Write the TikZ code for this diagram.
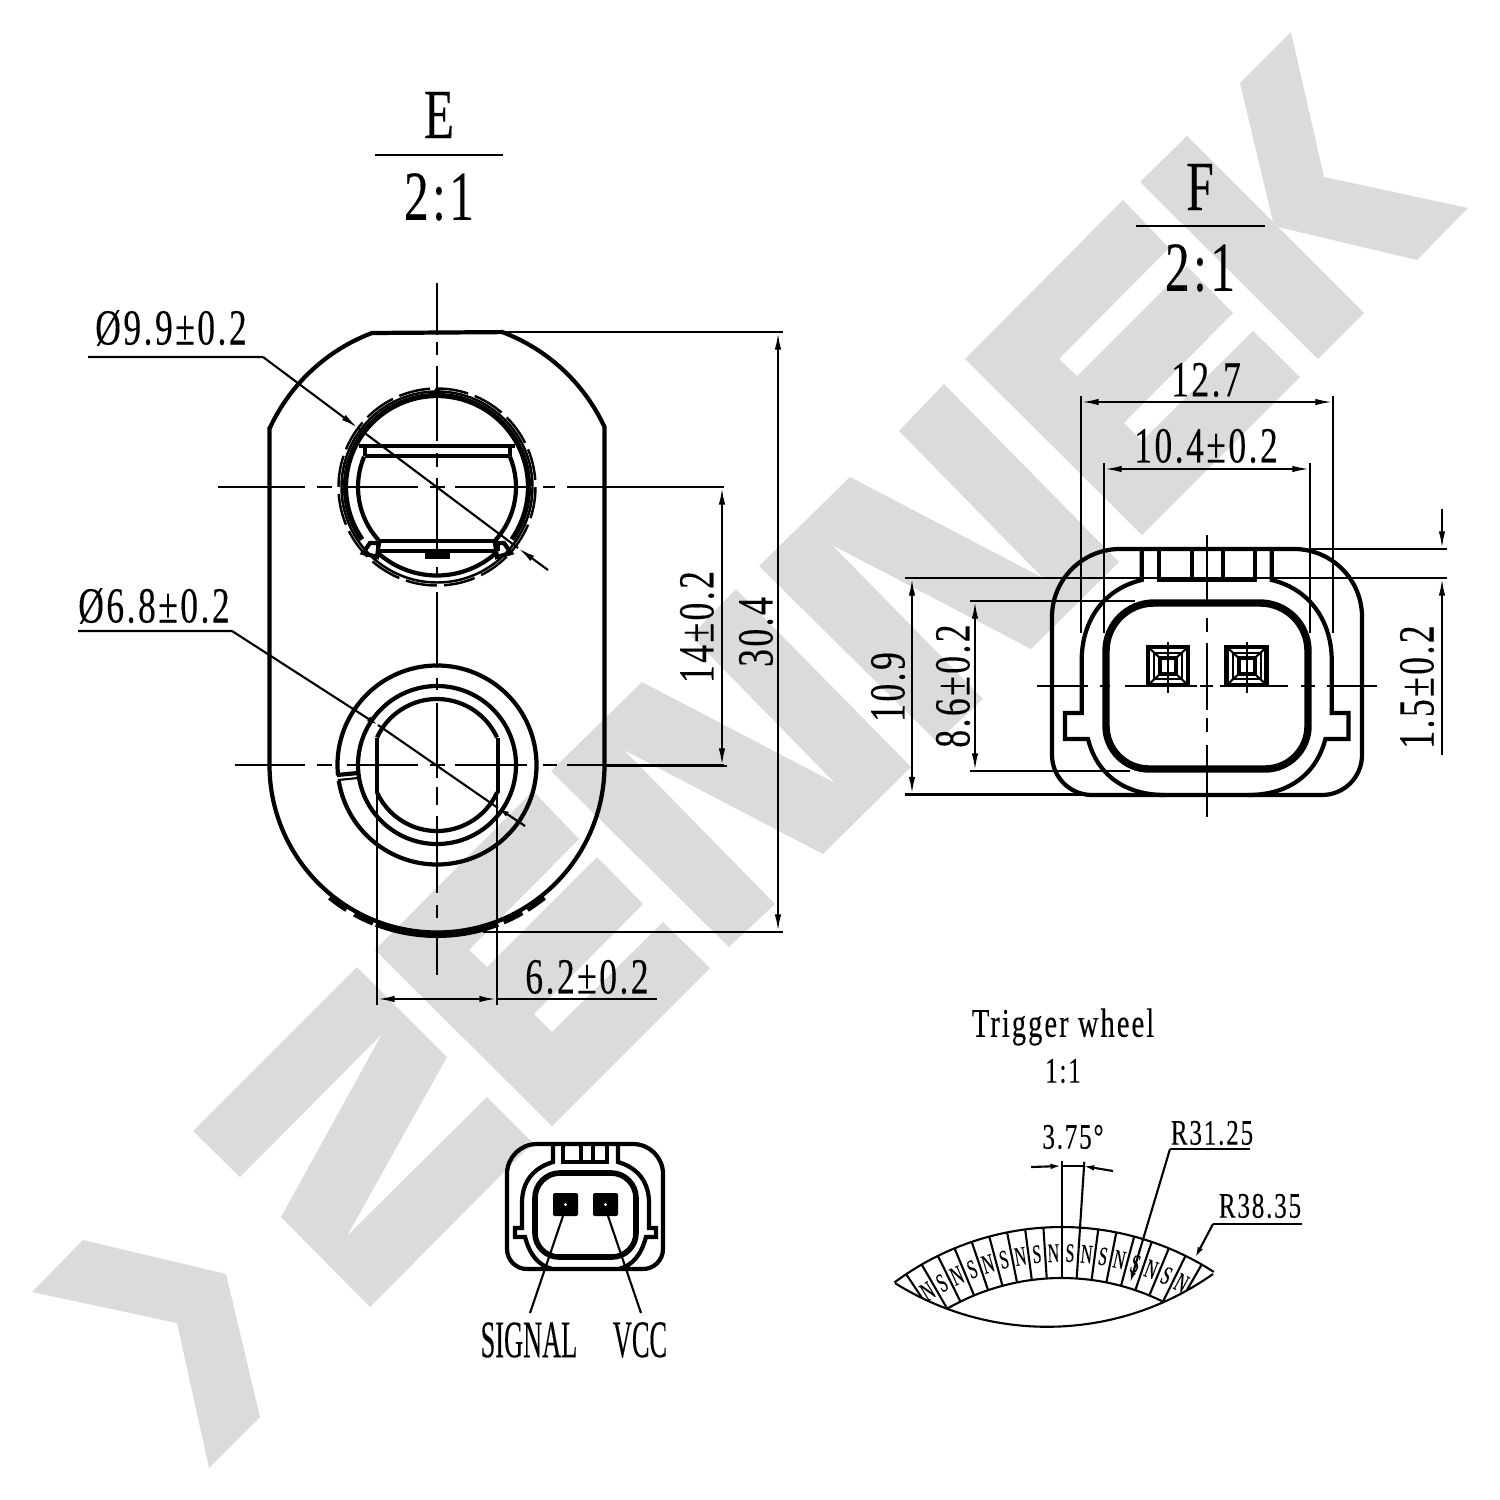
\documentclass[tikz,border=0pt]{standalone}
\usepackage{fontspec}
\setmainfont{Liberation Serif}
\newfontfamily\dimface[FakeStretch=0.7,LetterSpace=5,FakeBold=0.2]{Liberation Serif}
\newfontfamily\magface[FakeStretch=0.6,FakeBold=0.2]{Liberation Serif}
\newfontfamily\capface[FakeStretch=0.5,FakeBold=0.2]{Liberation Serif}
\newcommand{\bigfont}{\fontsize{20}{24}\dimface\selectfont}
\newcommand{\dimfont}{\fontsize{14.4}{16}\dimface\selectfont}
\newcommand{\midfont}{\fontsize{10.2}{12}\dimface\selectfont}
\newcommand{\wheelfont}{\fontsize{11.6}{14}\dimface\selectfont}
\newcommand{\magfont}{\fontsize{7.6}{9}\magface\selectfont}
\newcommand{\pinfont}{\fontsize{15}{18}\capface\selectfont}
\usetikzlibrary{arrows.meta,calc}
\definecolor{wmark}{HTML}{DBDBDB}

\begin{document}
\begin{tikzpicture}[x=0.01cm,y=-0.01cm,>={Latex[length=5pt,width=1.8pt]},
    outl/.style={line width=1.2pt},
    heavy/.style={line width=2pt},
    thinl/.style={line width=.6pt},
    small/.style={line width=.6pt,>={Latex[length=3.2pt,width=1.6pt]}},
    dimtext/.style={font=\dimfont,inner sep=0pt},
    bigtext/.style={font=\bigfont,inner sep=0pt},
    midtext/.style={font=\midfont,inner sep=0pt},
    pintext/.style={font=\pinfont,inner sep=0pt},
    contact/.style={fill,inner sep=0pt,minimum width=.25cm,minimum height=.23cm,rounded corners=.4pt}]
    \useasboundingbox (0,0) rectangle (1500,1500);

    % watermark
    \fill[wmark] (32,1292) -- (83,1240) -- (226,1274) -- (260,1417) -- (209,1468) -- (177,1323) -- cycle;
    \fill[wmark] (357,967) -- (447,1057) -- (347,1236) -- (487,1097) -- (533,1143) -- (370,1307) -- (281,1217) -- (382,1034) -- (240,1177) -- (193,1131) -- cycle;
    \foreach \dx/\dy in {0/0,-590/591}
        \fill[wmark,shift={(\dx,\dy)}] (965,359) -- (1123,200) -- (1169,248) -- (1059,359) -- (1077,376) -- (1187,266) -- (1233,313) -- (1124,423) -- (1142,441) -- (1253,331) -- (1300,377) -- (1142,535) -- cycle;
    \foreach \dx/\dy in {0/0,208/-205}
        \fill[wmark,shift={(\dx,\dy)}] (551,771) -- (642,682) -- (835,783) -- (691,636) -- (736,589) -- (911,767) -- (823,854) -- (624,750) -- (775,904) -- (729,947) -- cycle;
    \fill[wmark] (1187,136) -- (1364,313) -- (1318,359) -- (1140,182) -- cycle;
    \fill[wmark] (1291,32) -- (1324,177) -- (1468,208) -- (1417,260) -- (1278,227) -- (1273,222) -- (1240,83) -- cycle;

    % view E
    \node[bigtext] (titleE) at (439,115) {E};
    \draw[thinl] (375,155) -- (503,155);
    \node[bigtext] (scaleE) at (439,197) {2:1};

    \draw[outl] (269.5,427) -- (269.5,765) arc[start angle=180,end angle=0,radius=167.5] -- (604.5,427)
        arc[start angle=-24.9,end angle=-69.3,radius=184.5] -- (372,333) arc[start angle=-110.7,end angle=-155.1,radius=184.5];
    \foreach \a/\b in {122/129,112/119,69/111,60/67,51/58}
        \draw[heavy] (437,765) ++(\a:169.5) arc[start angle=\a,end angle=\b,radius=169.5];

    % upper bore
    \draw[line width=1.5pt] (437,487) ++(145:91.5) arc[start angle=145,end angle=395,radius=91.5];
    \draw[line width=.7pt] (437,487) circle[radius=95.5];
    \draw[line width=.7pt,dash pattern=on 9pt off 2pt] (437,487) circle[radius=98.5];
    \draw[outl] (437,487) ++(48:88.5) arc[start angle=48,end angle=132,radius=88.5];
    \draw[outl] (437,487) ++(202.6:79) arc[start angle=202.6,end angle=138,radius=79];
    \draw[outl] (437,487) ++(-22.6:79) arc[start angle=-22.6,end angle=42,radius=79];
    \draw[outl] (359,446) -- (515,446) (365,456) -- (510,456) (365,446) -- (365,456) (510,446) -- (510,456);
    \draw[outl] (378,541) -- (498,541) (378,551) -- (498,551) (378,541) -- (378,551) (498,541) -- (498,551);
    \draw[outl] (363,553) -- (377,557) -- (379,543) -- (370,543) -- cycle;
    \draw[outl] (511,553) -- (497,557) -- (495,543) -- (504,543) -- cycle;
    \draw[heavy] (425,555) -- (450,555);
    \draw[thinl] (437,388) -- (432,396) -- (442,396) -- cycle;

    % lower bore
    \draw[outl] (437,765) ++(174:99.5) arc[start angle=174,end angle=531,radius=99.5];
    \draw[outl] (337,775) -- (358,773);
    \draw[thinl] (338,780) -- (358,778);
    \draw[outl] (437,765) circle[radius=79];
    \draw[outl] (377,738) -- (377,793) (498,738) -- (498,793);
    \draw[outl] (437,765) ++(-24.6:66) arc[start angle=-24.6,end angle=-155.4,radius=66];
    \draw[outl] (437,765) ++(24.6:66) arc[start angle=24.6,end angle=155.4,radius=66];

    % centre lines of E
    \foreach \a/\b in {283/335,342/355,366/441,453/467,478/555,567/577,592/668,678/690,703/778,787/805,816/893,905/918,932/975}
        \draw[thinl] (437,\a) -- (437,\b);
    \foreach \a/\b in {218/305,317/332,347/418,430/445,455/530,543/555,567/724}
        \draw[thinl] (\a,487) -- (\b,487);
    \foreach \a/\b in {235/305,317/332,347/418,430/445,455/527,543/557,567/724}
        \draw[thinl] (\a,765) -- (\b,765);

    % dimensions of E
    \node[dimtext] (diaU) at (171,328) {Ø9.9±0.2};
    \coordinate (diaUa) at (88,357);
    \coordinate (diaUb) at (263,357);
    \coordinate (diaUc) at (358,428);
    \coordinate (diaUd) at (518,548);
    \coordinate (diaUe) at (548,570);
    \draw[thinl] (diaUa) -- (diaUb) (diaUc) -- (diaUd);
    \draw[thinl,->] (diaUb) -- (diaUc);
    \draw[thinl,->] (diaUe) -- (diaUd);

    \node[dimtext] (diaL) at (154,606) {Ø6.8±0.2};
    \coordinate (diaLa) at (78,631);
    \coordinate (diaLb) at (232,631);
    \coordinate (diaLc) at (378,725);
    \coordinate (diaLd) at (498,808);
    \coordinate (diaLe) at (525,826);
    \draw[thinl] (diaLa) -- (diaLb) (diaLc) -- (diaLd);
    \draw[small,->] (diaLb) -- (diaLc);
    \draw[small,->] (diaLe) -- (diaLd);

    \node[dimtext,rotate=90] (dimPitch) at (697,627) {14±0.2};
    \coordinate (pitchA) at (722,487);
    \coordinate (pitchB) at (722,766);
    \draw[thinl,<->] (pitchA) -- (pitchB);
    \draw[thinl] (605,766) -- (727,766);

    \node[dimtext,rotate=90] (dimLength) at (756,632) {30.4};
    \coordinate (lengthA) at (778,332);
    \coordinate (lengthB) at (778,932);
    \draw[thinl] (503,332) -- (783,332) (483,932) -- (783,932);
    \draw[thinl,<->] (lengthA) -- (lengthB);

    \node[dimtext] (dimFlat) at (587,977) {6.2±0.2};
    \coordinate (flatA) at (377,999);
    \coordinate (flatB) at (497,999);
    \draw[thinl] (377,793) -- (377,1005) (497,793) -- (497,1005) (flatB) -- (657,999);
    \draw[thinl,<->] (flatA) -- (flatB);

    % view F
    \node[bigtext] (titleF) at (1200,187) {F};
    \draw[thinl] (1136,226) -- (1265,226);
    \node[bigtext] (scaleF) at (1200,268) {2:1};

    \draw[outl] (1120,549) -- (1294,549) arc[start angle=-90,end angle=0,radius=68] -- (1362,755)
        arc[start angle=0,end angle=90,radius=40] -- (1092,795) arc[start angle=90,end angle=180,radius=40]
        -- (1052,617) arc[start angle=180,end angle=270,radius=68] -- cycle;
    \draw[outl] (1141.7,549) -- (1141.7,580) .. controls (1100,590) and (1081.7,625) .. (1081.7,660) -- (1081.7,713) -- (1065,713) -- (1065,739) -- (1088,739) .. controls (1097,775) and (1125,795) .. (1165,795);
    \draw[outl] (1271.7,549) -- (1271.7,580) .. controls (1313,590) and (1331.7,625) .. (1331.7,660) -- (1331.7,713) -- (1348.4,713) -- (1348.4,739) -- (1325.4,739) .. controls (1316,775) and (1288,795) .. (1248,795);
    \draw[outl] (1159,549) -- (1159,580) -- (1255,580) -- (1255,549) (1191.7,549) -- (1191.7,580) (1223,549) -- (1223,580);
    \draw[line width=2.1pt] (1154,603) -- (1260,603) arc[start angle=-90,end angle=0,radius=48] -- (1308,726)
        arc[start angle=0,end angle=90,radius=43] -- (1149,769) arc[start angle=90,end angle=180,radius=43]
        -- (1106,651) arc[start angle=180,end angle=270,radius=48] -- cycle;
    \foreach \cx in {1168,1246.7} {
        \draw[line width=1.3pt] (\cx-20,647) rectangle (\cx+20,685);
        \draw[thinl] (\cx-14,653) rectangle (\cx+14,679);
        \draw[outl] (\cx-8,658) rectangle (\cx+8,674);
        \draw[thinl] (\cx-20,647) -- (\cx-8,658) (\cx+20,647) -- (\cx+8,658) (\cx-20,685) -- (\cx-8,674) (\cx+20,685) -- (\cx+8,674);
        \draw[thinl] (\cx,642) -- (\cx,693);
    }
    \foreach \a/\b in {1037/1088,1100/1110,1125/1197,1200/1213,1220/1288,1301/1315,1327/1377}
        \draw[thinl] (\a,686) -- (\b,686);
    \foreach \a/\b in {535/600,618/632,643/710,718/732,745/817}
        \draw[thinl] (1206.7,\a) -- (1206.7,\b);

    % dimensions of F
    \node[dimtext] (dimOuter) at (1206,380) {12.7};
    \coordinate (outerA) at (1081,402);
    \coordinate (outerB) at (1333,402);
    \draw[thinl] (1081,396) -- (1081,633) (1333,396) -- (1333,633);
    \draw[thinl,<->] (outerA) -- (outerB);

    \node[dimtext] (dimInner) at (1206,446) {10.4±0.2};
    \coordinate (innerA) at (1104,469);
    \coordinate (innerB) at (1310,469);
    \draw[thinl] (1104,463) -- (1104,633) (1310,463) -- (1310,633);
    \draw[thinl,<->] (innerA) -- (innerB);

    \draw[thinl] (1310,549) -- (1447,549);
    \draw[line width=.8pt] (905,578) -- (1447,578);
    \draw[thinl] (970,601) -- (1135,601) (970,771) -- (1130,771) (905,794.5) -- (1160,794.5);

    \node[dimtext,rotate=90] (dimStep) at (1417,687) {1.5±0.2};
    \coordinate (stepA) at (1442,509);
    \coordinate (stepB) at (1442,549);
    \coordinate (stepC) at (1442,755);
    \coordinate (stepD) at (1442,578);
    \draw[thinl,->] (stepA) -- (stepB);
    \draw[thinl,->] (stepC) -- (stepD);

    \node[dimtext,rotate=90] (dimHigh) at (888,687) {10.9};
    \coordinate (highA) at (912,578);
    \coordinate (highB) at (912,794.5);
    \draw[thinl,<->] (highA) -- (highB);

    \node[dimtext,rotate=90] (dimBore) at (953,686) {8.6±0.2};
    \coordinate (boreA) at (975,601);
    \coordinate (boreB) at (975,771);
    \draw[thinl,<->] (boreA) -- (boreB);

    % pin view
    \draw[outl] (537,1144) -- (633,1144) arc[start angle=-90,end angle=0,radius=30] -- (663,1249)
        arc[start angle=0,end angle=90,radius=20] -- (527,1269) arc[start angle=90,end angle=180,radius=20]
        -- (507,1174) arc[start angle=180,end angle=270,radius=30] -- cycle;
    \draw[outl] (553,1144) -- (553,1162) .. controls (533,1168) and (522,1182) .. (522,1203) -- (522,1228) -- (515,1228) -- (515,1237) -- (525,1237) .. controls (530,1255) and (538,1265) .. (552,1269);
    \draw[outl] (618,1144) -- (618,1162) .. controls (638,1168) and (649,1182) .. (649,1203) -- (649,1228) -- (656,1228) -- (656,1237) -- (646,1237) .. controls (641,1255) and (633,1265) .. (619,1269);
    \draw[outl] (563,1144) -- (563,1162) -- (607,1162) -- (607,1144) (581,1144) -- (581,1162) (593,1144) -- (593,1162);
    \draw[line width=1.6pt] (560,1173) -- (611,1173) arc[start angle=-90,end angle=0,radius=25] -- (636,1233)
        arc[start angle=0,end angle=90,radius=24] -- (559,1257) arc[start angle=90,end angle=180,radius=24]
        -- (535,1198) arc[start angle=180,end angle=270,radius=25] -- cycle;
    \node[contact] (pinS) at (565.5,1204.5) {};
    \node[contact] (pinV) at (605.5,1204.5) {};
    \fill[white] (pinS) circle[radius=1.5] (pinV) circle[radius=1.5];
    \node[pintext] (labelSignal) at (529,1340) {SIGNAL};
    \node[pintext] (labelVcc) at (640,1340) {VCC};
    \coordinate (signalEnd) at (530,1313);
    \coordinate (vccEnd) at (641,1313);
    \draw[thinl] (563,1216) -- (signalEnd);
    \draw[thinl] (608,1216) -- (vccEnd);

    % trigger wheel
    \node[font=\wheelfont,inner sep=0pt] (wheelTitle) at (1063,1027) {Trigger wheel};
    \node[midtext] (wheelScale) at (1063,1071) {1:1};
    \coordinate (wheel) at (1061.7,1507);
    \draw[thinl] (wheel) ++(-126.7:280) arc[start angle=-126.7,end angle=-57.1,radius=280];
    \draw[thinl] (wheel) ++(-120:229) arc[start angle=-120,end angle=-63.75,radius=229];
    \draw[thinl] (1213,1274) arc[start angle=54.7,end angle=122,radius=287];
    \foreach \k/\rr in {-9/251,-8/229,-7/229,-6/229,-5/229,-4/229,-3/229,-2/229,-1/229,0/229,1/229,2/229,3/229,4/229,5/229,6/229,7/229,8/250} {
        \pgfmathsetmacro{\ang}{-90+3.75*\k}
        \draw[thinl] ($(wheel)+(\ang:\rr)$) -- ($(wheel)+(\ang:280)$);
    }
    \foreach \k [count=\n] in {-8.5,-7.5,...,7.5} {
        \pgfmathsetmacro{\ang}{-90+3.75*\k}
        \pgfmathsetmacro{\rot}{-3.75*\k}
        \node[font=\magfont,inner sep=0pt,rotate=\rot] (mag\n) at ($(wheel)+(\ang:254)$) {\ifodd\n N\else S\fi};
    }
    \draw[thinl] ($(wheel)+(-90:280)$) -- ($(wheel)+(-90:346)$);
    \draw[thinl] ($(wheel)+(-86.25:280)$) -- ($(wheel)+(-86.25:346)$);
    \node[midtext] (dimPole) at (1073,1137) {3.75°};
    \coordinate (poleA) at (1031,1167);
    \coordinate (poleB) at (1061.7,1166);
    \coordinate (poleC) at (1113,1171);
    \coordinate (poleD) at (1083,1166);
    \draw[small,->] (poleA) -- (poleB);
    \draw[small,->] (poleC) -- (poleD);
    \draw[thinl] (poleB) -- (poleD);

    \node[midtext] (dimRin) at (1212,1133) {R31.25};
    \coordinate (rinA) at (1250,1149);
    \coordinate (rinB) at (1170,1149);
    \coordinate (rinC) at (1130,1283);
    \draw[thinl] (rinA) -- (rinB);
    \draw[small,->] (rinB) -- (rinC);

    \node[midtext] (dimRout) at (1260,1206) {R38.35};
    \coordinate (routA) at (1302,1224);
    \coordinate (routB) at (1213,1224);
    \coordinate (routC) at (1195,1258);
    \draw[thinl] (routA) -- (routB);
    \draw[small,->] (routB) -- (routC);
\end{tikzpicture}
\end{document}
